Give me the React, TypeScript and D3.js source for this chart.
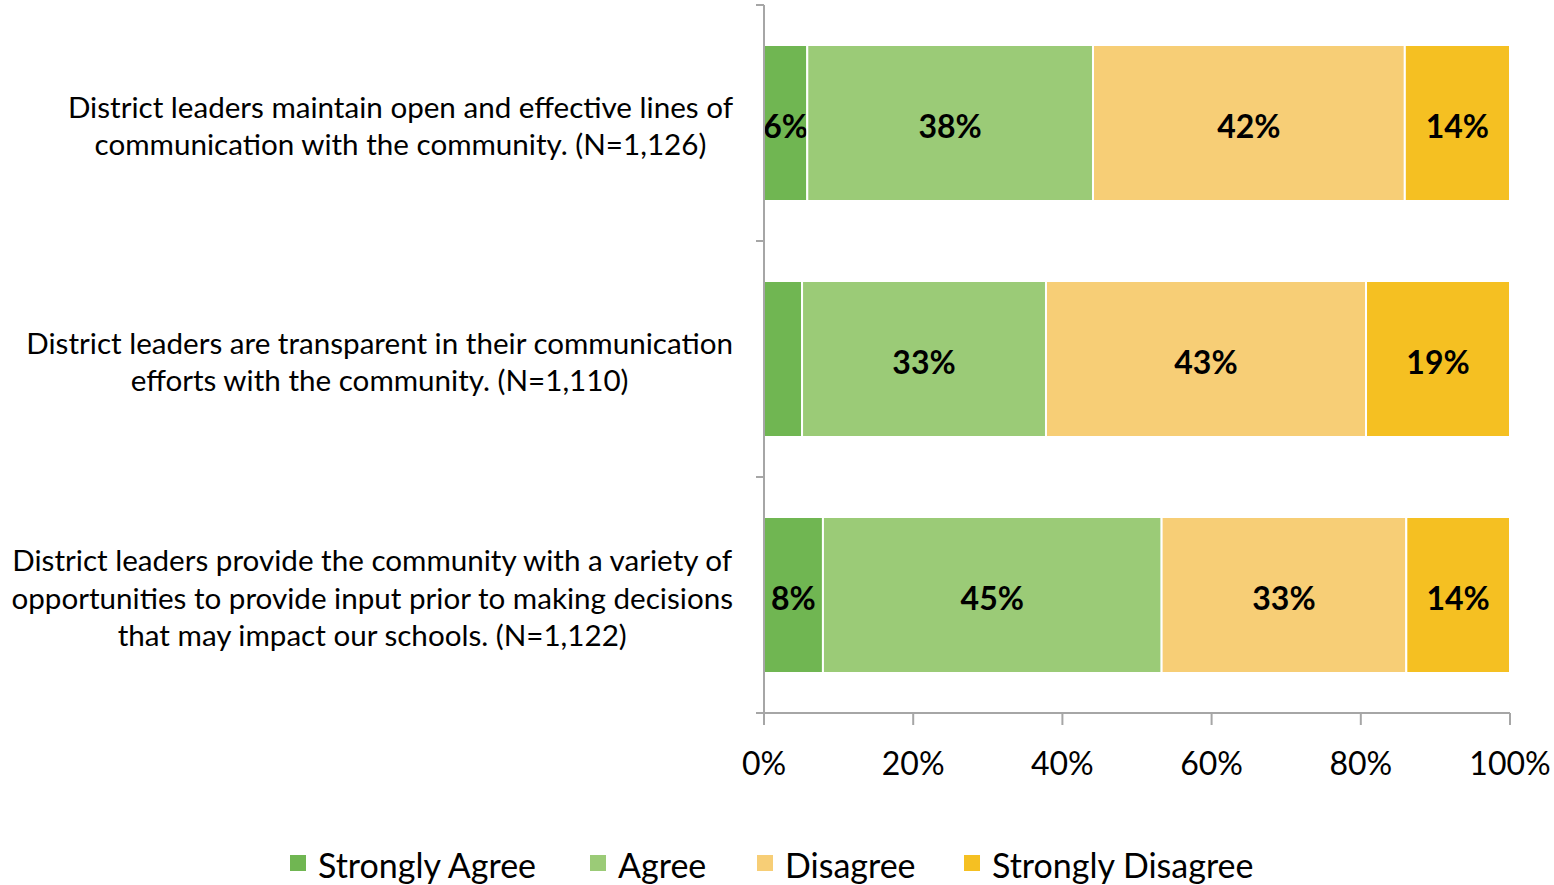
import React, { useEffect, useRef } from "react";
import * as d3 from "d3";

const questions = [
  ["District leaders maintain open and effective lines of", "communication with the community. (N=1,126)"],
  ["District leaders are transparent in their communication", "efforts with the community. (N=1,110)"],
  [
    "District leaders provide the community with a variety of",
    "opportunities to provide input prior to making decisions",
    "that may impact our schools. (N=1,122)",
  ],
];
const seriesNames = ["Strongly Agree", "Agree", "Disagree", "Strongly Disagree"];
const seriesColors = ["#70b652", "#9bcb77", "#f7ce76", "#f5c022"];
const stronglyAgree = [5.8, 5.1, 7.9];
const agree = [38.3, 32.7, 45.4];
const disagree = [41.8, 42.9, 32.8];
const stronglyDisagree = [14.1, 19.3, 13.9];
const xTicks = [0, 20, 40, 60, 80, 100];

const FONT = "Lato, 'Open Sans', sans-serif";

export default function App() {
  const svgRef = useRef<SVGSVGElement>(null);

  useEffect(() => {
    const el = svgRef.current;
    if (!el) return;
    d3.select(el).selectAll("*").remove();
    const svg = d3.select(el);

    const left = 764, right = 1510, top = 5, bottom = 713;
    const x = d3.scaleLinear().domain([0, 100]).range([left, right]);
    const y = d3.scaleBand<number>()
      .domain(d3.range(questions.length))
      .range([top, bottom])
      .paddingInner(0.339)
      .paddingOuter(0.1695);

    const values = [stronglyAgree, agree, disagree, stronglyDisagree];
    const rows = questions.map((_, i) => {
      const r: any = { i };
      seriesNames.forEach((s, k) => (r[s] = values[k][i]));
      return r;
    });
    const stacked = d3.stack<any>().keys(seriesNames)(rows);

    // bars
    stacked.forEach((layer, k) => {
      const g = svg.append("g");
      g.selectAll("rect")
        .data(layer)
        .join("rect")
        .attr("x", (d) => x(d[0]))
        .attr("y", (d) => y(d.data.i)!)
        .attr("width", (d) => x(d[1]) - x(d[0]))
        .attr("height", y.bandwidth())
        .attr("fill", seriesColors[k])
        .attr("stroke", "#fff")
        .attr("stroke-width", 2);
      g.selectAll("text")
        .data(layer.filter((d) => d[1] - d[0] >= 5.5))
        .join("text")
        .attr("x", (d) => (x(d[0]) + x(d[1])) / 2)
        .attr("y", (d) => y(d.data.i)! + y.bandwidth() / 2 + 3)
        .attr("dy", "0.36em")
        .attr("text-anchor", "middle")
        .attr("font-family", FONT)
        .attr("font-weight", "bold")
        .attr("font-size", 32)
        .attr("fill", "#000")
        .text((d) => `${Math.round(d[1] - d[0])}%`);
    });

    const axisColor = "#a6a6a6";
    // y axis line + ticks
    svg.append("line")
      .attr("x1", left).attr("x2", left).attr("y1", top).attr("y2", bottom)
      .attr("stroke", axisColor).attr("stroke-width", 2);
    const yTickPos = [top, ...questions.map((_, i) => y(i)! + y.bandwidth() + (y.step() - y.bandwidth()) / 2)];
    svg.selectAll(".ytick")
      .data(yTickPos)
      .join("line")
      .attr("x1", left - 8).attr("x2", left).attr("y1", (d) => d).attr("y2", (d) => d)
      .attr("stroke", axisColor).attr("stroke-width", 2);

    // x axis
    svg.append("line")
      .attr("x1", left - 8).attr("x2", right).attr("y1", bottom).attr("y2", bottom)
      .attr("stroke", axisColor).attr("stroke-width", 2);
    svg.selectAll(".xtick")
      .data(xTicks)
      .join("line")
      .attr("x1", (d) => x(d)).attr("x2", (d) => x(d))
      .attr("y1", bottom).attr("y2", bottom + 12)
      .attr("stroke", axisColor).attr("stroke-width", 2);
    svg.selectAll(".xlabel")
      .data(xTicks)
      .join("text")
      .attr("x", (d) => x(d))
      .attr("y", 775)
      .attr("text-anchor", "middle")
      .attr("font-family", FONT)
      .attr("font-size", 32)
      .attr("fill", "#000")
      .text((d) => `${d}%`);

    // category labels: lines centered within the block, block right-aligned
    const lineH = 37.5;
    questions.forEach((lines, i) => {
      const g = svg.append("g");
      const cy = y(i)! + y.bandwidth() / 2 + 3;
      const texts = lines.map((ln, j) =>
        g.append("text")
          .attr("y", cy + (j - (lines.length - 1) / 2) * lineH)
          .attr("dy", "0.36em")
          .attr("text-anchor", "middle")
          .attr("font-family", FONT)
          .attr("font-size", 29.6)
          .attr("fill", "#000")
          .text(ln)
      );
      const maxW = d3.max(texts, (t) => (t.node() as SVGTextElement).getComputedTextLength()) || 0;
      texts.forEach((t) => t.attr("x", 733 - maxW / 2));
    });

    // legend
    const legendX = [290, 590, 757, 964];
    seriesNames.forEach((s, k) => {
      svg.append("rect")
        .attr("x", legendX[k]).attr("y", 855).attr("width", 16).attr("height", 16)
        .attr("fill", seriesColors[k]);
      svg.append("text")
        .attr("x", legendX[k] + 28).attr("y", 866).attr("dy", "0.36em")
        .attr("font-family", FONT).attr("font-size", 34).attr("fill", "#000")
        .text(s);
    });
  }, []);

  return (
    <div style={{ position: "fixed", left: 0, top: 0 }}>
      <svg ref={svgRef} width={1554} height={885} style={{ display: "block", background: "#fff" }} />
    </div>
  );
}
